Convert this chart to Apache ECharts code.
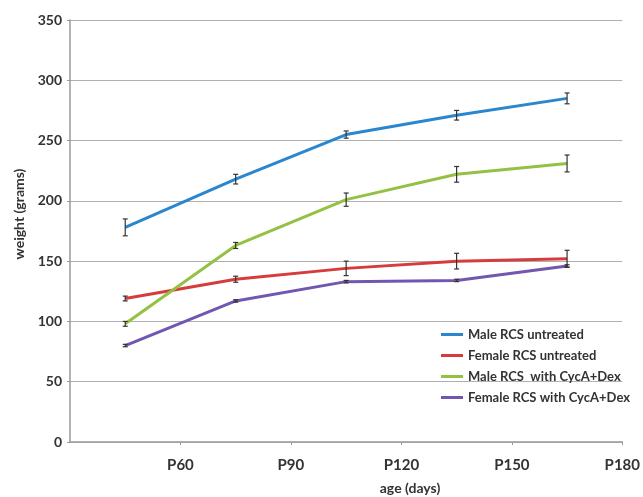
<!DOCTYPE html>
<html>
<head>
<meta charset="utf-8">
<script src="https://cdn.jsdelivr.net/npm/echarts@6/dist/echarts.min.js"></script>
<style>html,body{margin:0;padding:0;background:#fff}#c{width:643px;height:497px}</style>
</head>
<body>
<div id="c"></div>
<script>
var days = [45, 75, 105, 135, 165];
var xTicks = [60, 90, 120, 150, 180];
var seriesNames = ['Male RCS untreated', 'Female RCS untreated', 'Male RCS  with CycA+Dex', 'Female RCS with CycA+Dex'];
var maleUntreated = [178, 218, 255, 271, 285];
var maleUntreatedErr = [7, 4, 3, 4, 4.5];
var femaleUntreated = [119, 135, 144, 150, 152];
var femaleUntreatedErr = [2, 2.5, 6, 6.5, 7];
var maleTreated = [98, 163, 201, 222, 231];
var maleTreatedErr = [2, 2.5, 5.5, 6.5, 7];
var femaleTreated = [80, 117, 133, 134, 146];
var femaleTreatedErr = [1, 1, 1, 1, 1];
var colors = ['#2a86cd', '#d63c3c', '#94c143', '#7257b0'];

var vals = [maleUntreated, femaleUntreated, maleTreated, femaleTreated];
var errs = [maleUntreatedErr, femaleUntreatedErr, maleTreatedErr, femaleTreatedErr];

var chart = echarts.init(document.getElementById('c'));
var font = 'Lato, "Open Sans", sans-serif';
var series = [];
vals.forEach(function (v, i) {
  series.push({
    name: seriesNames[i], type: 'line', symbol: 'none',
    data: days.map(function (d, j) { return [d, v[j]]; }),
    lineStyle: { color: colors[i], width: 3 }, itemStyle: { color: colors[i] },
    z: 2
  });
});
var errData = [];
vals.forEach(function (v, i) {
  days.forEach(function (d, j) { errData.push([d, v[j] - errs[i][j], v[j] + errs[i][j]]); });
});
series.push({
  type: 'custom', name: 'err', z: 5,
  data: errData,
  renderItem: function (params, api) {
    var lo = api.coord([api.value(0), api.value(1)]);
    var hi = api.coord([api.value(0), api.value(2)]);
    var w = 2.5;
    var st = { stroke: '#333', lineWidth: 1.2 };
    return { type: 'group', children: [
      { type: 'line', shape: { x1: lo[0], y1: lo[1], x2: hi[0], y2: hi[1] }, style: st },
      { type: 'line', shape: { x1: lo[0] - w, y1: lo[1], x2: lo[0] + w, y2: lo[1] }, style: st },
      { type: 'line', shape: { x1: hi[0] - w, y1: hi[1], x2: hi[0] + w, y2: hi[1] }, style: st }
    ]};
  }
});

chart.setOption({
  animation: false,
  grid: { left: 70, right: 15, top: 20, bottom: 55 },
  legend: {
    data: seriesNames.map(function (n) { return { name: n, icon: 'rect' }; }),
    orient: 'vertical', left: 436, top: 322, itemGap: 6,
    itemWidth: 22, itemHeight: 3,
    textStyle: { fontFamily: font, fontWeight: 'bold', fontSize: 13, color: '#333', lineHeight: 15 }
  },
  xAxis: {
    type: 'value', min: 30, max: 180, interval: 30,
    axisLine: { lineStyle: { color: '#9a9a9a', width: 1.5 } },
    axisTick: { show: true, length: 3, lineStyle: { color: '#9a9a9a' } },
    splitLine: { show: false },
    axisLabel: { showMinLabel: false, margin: 16, fontFamily: font, fontWeight: 'bold', fontSize: 15, color: '#333',
      formatter: function (v) { return xTicks.indexOf(v) >= 0 ? 'P' + v : ''; } }
  },
  yAxis: {
    type: 'value', min: 0, max: 350, interval: 50,
    axisLine: { show: true, lineStyle: { color: '#9a9a9a', width: 1.5 } },
    axisTick: { show: true, length: 3, lineStyle: { color: '#9a9a9a' } },
    splitLine: { lineStyle: { color: '#b0b0b0', width: 1 } },
    axisLabel: { margin: 8, fontFamily: font, fontWeight: 'bold', fontSize: 14, color: '#333' }
  },
  graphic: [
    { type: 'text', x: 410, y: 488, style: { text: 'age (days)', fontFamily: font, fontWeight: 'bold', fontSize: 14, fill: '#333', align: 'center', verticalAlign: 'middle' } },
    { type: 'text', x: 19, y: 214, rotation: Math.PI / 2, style: { text: 'weight (grams)', fontFamily: font, fontWeight: 'bold', fontSize: 14, fill: '#333', align: 'center', verticalAlign: 'middle' } }
  ],
  series: series
});
</script>
</body>
</html>
